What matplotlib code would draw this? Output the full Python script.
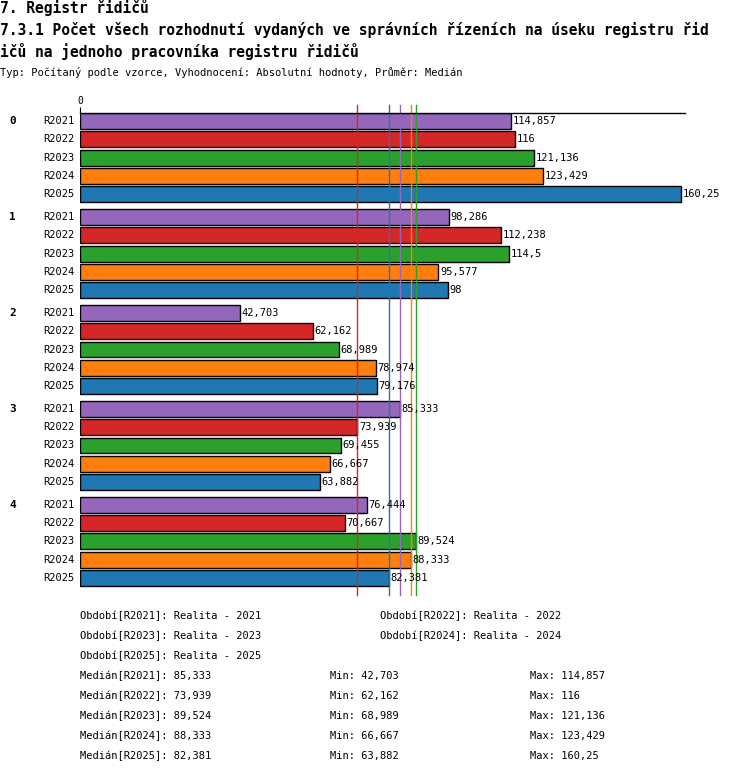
import matplotlib
matplotlib.use("Agg")
import matplotlib.pyplot as plt

groups = ["0", "1", "2", "3", "4"]
periods = ["R2021", "R2022", "R2023", "R2024", "R2025"]
colors = ["#9467bd", "#d62728", "#2ca02c", "#ff7f0e", "#1f77b4"]
values = [
    [114.857, 116, 121.136, 123.429, 160.25],
    [98.286, 112.238, 114.5, 95.577, 98],
    [42.703, 62.162, 68.989, 78.974, 79.176],
    [85.333, 73.939, 69.455, 66.667, 63.882],
    [76.444, 70.667, 89.524, 88.333, 82.381],
]
labels = [
    ["114,857", "116", "121,136", "123,429", "160,25"],
    ["98,286", "112,238", "114,5", "95,577", "98"],
    ["42,703", "62,162", "68,989", "78,974", "79,176"],
    ["85,333", "73,939", "69,455", "66,667", "63,882"],
    ["76,444", "70,667", "89,524", "88,333", "82,381"],
]
medians = [85.333, 73.939, 89.524, 88.333, 82.381]
mins = ["42,703", "62,162", "68,989", "66,667", "63,882"]
maxs = ["114,857", "116", "121,136", "123,429", "160,25"]
med_lbl = ["85,333", "73,939", "89,524", "88,333", "82,381"]
legend_names = ["Realita - 2021", "Realita - 2022", "Realita - 2023", "Realita - 2024", "Realita - 2025"]

plt.rcParams['font.family'] = ['DejaVu Sans Mono']
fig = plt.figure(figsize=(7.5, 7.74), dpi=100)
ax = fig.add_axes([80/750, 1-595/774, 605/750, 482/774])
step = 5.25
for g in range(5):
    for i in range(5):
        y = g*step + i
        ax.barh(y, values[g][i], height=0.87, color=colors[i], edgecolor='black', linewidth=1)
        ax.text(values[g][i] + 0.4, y, labels[g][i], va='center', ha='left', fontsize=7.5)
        ax.text(-1.5, y, periods[i], va='center', ha='right', fontsize=7.5)
    ax.text(-18, g*step, groups[g], va='center', ha='center', fontsize=8, fontweight='bold')
for m, c in zip(medians, colors):
    ax.plot([m, m], [-0.9, 25.93], color=c, linewidth=1, clip_on=False)
ax.set_xlim(0, 161.3)
ax.set_ylim(25.93, -0.44)
for s in ['right', 'bottom']:
    ax.spines[s].set_visible(False)
ax.spines['left'].set_visible(False)
ax.spines['top'].set_linewidth(1)
ax.set_yticks([])
ax.xaxis.tick_top()
ax.set_xticks([0])
ax.set_xticklabels(["0"], fontsize=7)
ax.tick_params(axis='x', length=4, pad=1)

fig.text(0.0, 1-8/774, "7. Registr řidičů", fontsize=10.5, fontweight='bold', va='center')
fig.text(0.0, 1-30/774, "7.3.1 Počet všech rozhodnutí vydaných ve správních řízeních na úseku registru řid", fontsize=10.5, fontweight='bold', va='center')
fig.text(0.0, 1-52/774, "ičů na jednoho pracovníka registru řidičů", fontsize=10.5, fontweight='bold', va='center')
fig.text(0.0, 1-73/774, "Typ: Počítaný podle vzorce, Vyhodnocení: Absolutní hodnoty, Průměr: Medián", fontsize=7.5, va='center')

fs = 7.5
pos = [(80, 616), (380, 616), (80, 636), (380, 636), (80, 656)]
for i, (x, y) in enumerate(pos):
    fig.text(x/750, 1-y/774, f"Období[{periods[i]}]: {legend_names[i]}", fontsize=fs, va='center')
for i in range(5):
    y = 676 + 20*i
    fig.text(80/750, 1-y/774, f"Medián[{periods[i]}]: {med_lbl[i]}", fontsize=fs, va='center')
    fig.text(330/750, 1-y/774, f"Min: {mins[i]}", fontsize=fs, va='center')
    fig.text(530/750, 1-y/774, f"Max: {maxs[i]}", fontsize=fs, va='center')

fig.savefig("out.png", dpi=100)
